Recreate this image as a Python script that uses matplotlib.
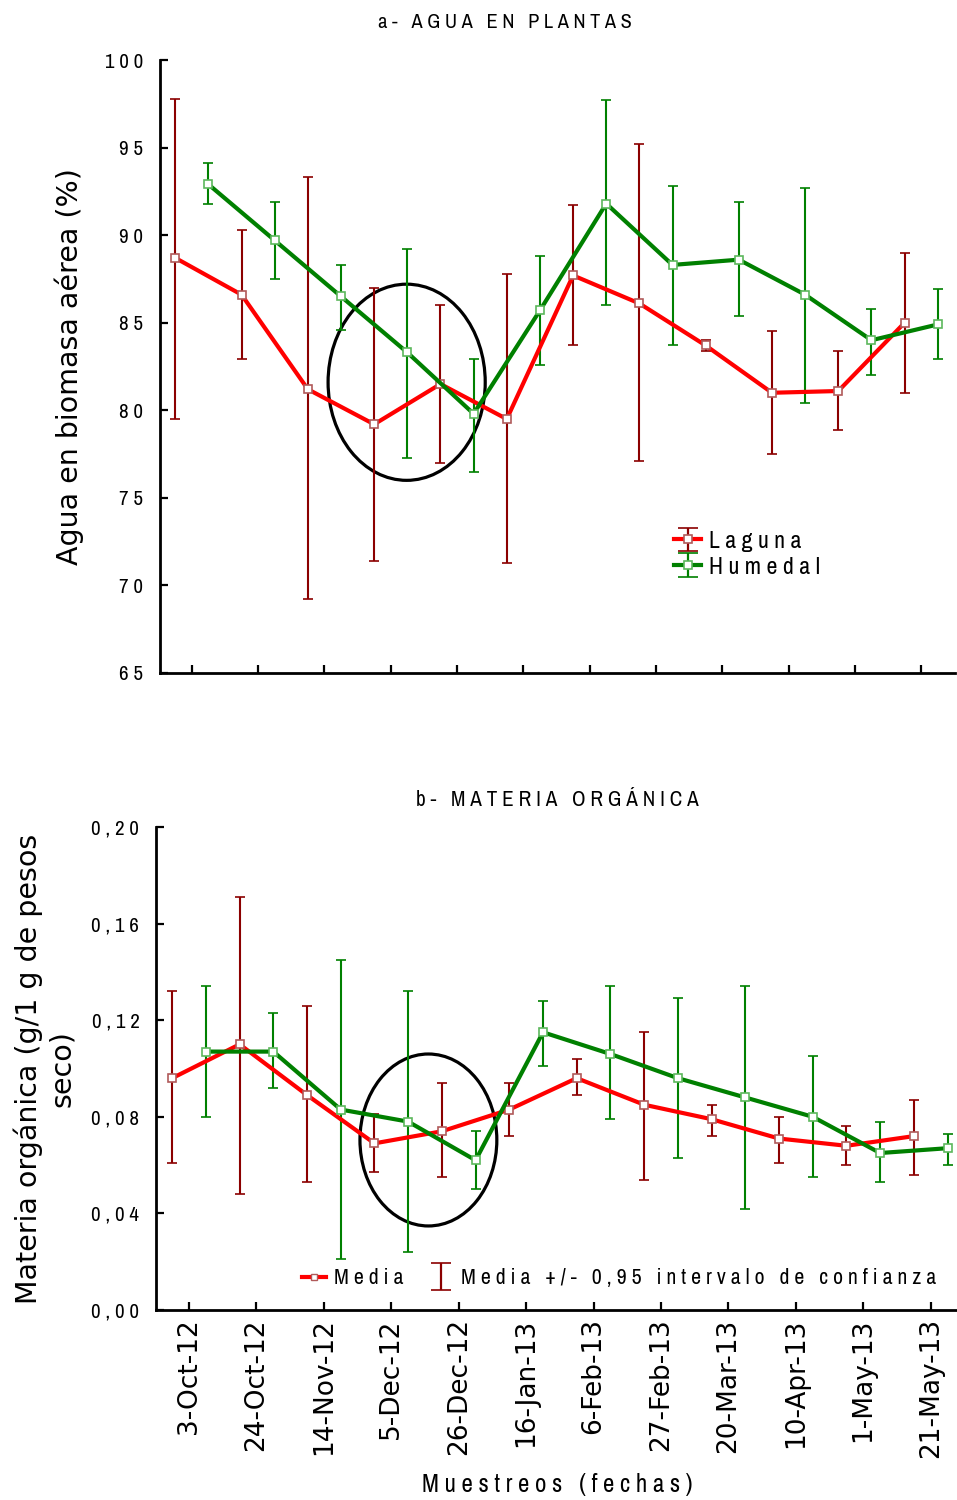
import numpy as np
import matplotlib
matplotlib.use("Agg")
import matplotlib.pyplot as plt
from matplotlib import font_manager
from matplotlib.font_manager import FontProperties
from matplotlib.patches import Ellipse
from matplotlib.lines import Line2D
from matplotlib.legend_handler import HandlerErrorbar

# ------------------------------------------------------------
# DATA
# ------------------------------------------------------------
fechas = ['3-Oct-12', '24-Oct-12', '14-Nov-12', '5-Dec-12', '26-Dec-12',
          '16-Jan-13', '6-Feb-13', '27-Feb-13', '20-Mar-13', '10-Apr-13',
          '1-May-13', '21-May-13']

# a- agua en plantas (%)
agua_laguna = [88.7, 86.6, 81.2, 79.2, 81.5, 79.5, 87.7, 86.1, 83.7, 81.0, 81.1, 85.0]
agua_laguna_lo = [79.5, 82.9, 69.2, 71.4, 77.0, 71.3, 83.7, 77.1, 83.4, 77.5, 78.9, 81.0]
agua_laguna_hi = [97.8, 90.3, 93.3, 87.0, 86.0, 87.8, 91.7, 95.2, 84.0, 84.5, 83.4, 89.0]

agua_humedal = [92.9, 89.7, 86.5, 83.3, 79.8, 85.7, 91.8, 88.3, 88.6, 86.6, 84.0, 84.9]
agua_humedal_lo = [91.8, 87.5, 84.6, 77.3, 76.5, 82.6, 86.0, 83.7, 85.4, 80.4, 82.0, 82.9]
agua_humedal_hi = [94.1, 91.9, 88.3, 89.2, 82.9, 88.8, 97.7, 92.8, 91.9, 92.7, 85.8, 86.9]

# b- materia organica (g/1 g de peso seco)
mo_laguna = [0.096, 0.110, 0.089, 0.069, 0.074, 0.083, 0.096, 0.085, 0.079, 0.071, 0.068, 0.072]
mo_laguna_lo = [0.061, 0.048, 0.053, 0.057, 0.055, 0.072, 0.089, 0.054, 0.072, 0.061, 0.060, 0.056]
mo_laguna_hi = [0.132, 0.171, 0.126, 0.081, 0.094, 0.094, 0.104, 0.115, 0.085, 0.080, 0.076, 0.087]

mo_humedal = [0.107, 0.107, 0.083, 0.078, 0.062, 0.115, 0.106, 0.096, 0.088, 0.080, 0.065, 0.067]
mo_humedal_lo = [0.080, 0.092, 0.021, 0.024, 0.050, 0.101, 0.079, 0.063, 0.042, 0.055, 0.053, 0.060]
mo_humedal_hi = [0.134, 0.123, 0.145, 0.132, 0.074, 0.128, 0.134, 0.129, 0.134, 0.105, 0.078, 0.073]

agua_ticks = [65, 70, 75, 80, 85, 90, 95, 100]
mo_ticks = [0.00, 0.04, 0.08, 0.12, 0.16, 0.20]

# ------------------------------------------------------------
# FONTS: a narrow / condensed face for the letter-spaced texts
# ------------------------------------------------------------
bad = ['bold', 'italic', 'oblique', 'thin', 'black', 'mono', 'serif']
cands = []
for f in font_manager.fontManager.ttflist:
    base = f.fname.lower().replace('-', '').replace('_', '').split('/')[-1]
    if ('condensed' in base or 'narrow' in base) and not any(b in base for b in bad):
        cands.append((base, f.fname))


def rank(c):
    name = c[0]
    light = any(w in name for w in ['light', 'semi', 'medium', 'extra'])
    if name.startswith('liberationsansnarrow'):
        return 0
    if 'dejavu' in name:
        return 4
    return 3 if light else 1


cands.sort(key=rank)
narrow_file = cands[0][1] if cands else None


def NF(size):
    if narrow_file:
        return FontProperties(fname=narrow_file, size=size)
    return FontProperties(family='DejaVu Sans', size=size)


plt.rcParams['font.family'] = ['DejaVu Sans']

RED = '#ff0000'
DARKRED = '#8b0000'
GREEN = '#008000'
RED_EDGE = '#b05a5a'
GREEN_EDGE = '#5cb85c'


def spaced(s):
    """Letter-spaced text like the original export."""
    return '   '.join(' '.join(w) for w in s.split(' '))


def draw_series(ax, x, mean, lo, hi, line_c, err_c, edge_c):
    mean = np.array(mean)
    yerr = [mean - np.array(lo), np.array(hi) - mean]
    return ax.errorbar(x, mean, yerr=yerr, color=line_c, ecolor=err_c, lw=3.0,
                       elinewidth=1.5, capsize=3.5, capthick=1.6,
                       marker='s', ms=6, mfc='white', mec=edge_c, mew=1.2)


def legend_key(ax, line_c, err_c, edge_c, show_line=True):
    # empty errorbar, only used as a legend key
    return ax.errorbar([np.nan], [np.nan], yerr=[[1.0], [1.0]],
                       fmt='-s' if show_line else 'none', color=line_c, ecolor=err_c,
                       lw=3.0, elinewidth=1.6, capsize=7, capthick=1.6,
                       ms=6, mfc='white', mec=edge_c, mew=1.2)


fig = plt.figure(figsize=(9.57, 15), dpi=100)
renderer = fig.canvas.get_renderer()


def fit_size(s, width_px, base=15.0):
    """Font size giving the spaced text the width it has in the reference."""
    t = fig.text(0, 0, spaced(s), fontproperties=NF(base))
    w = t.get_window_extent(renderer).width
    t.remove()
    return base * width_px / w


TITLE_A = fit_size('a- AGUA EN PLANTAS', 255)
TITLE_B = fit_size('b- MATERIA ORGÁNICA', 282)
XLAB = fit_size('Muestreos (fechas)', 271)
LEG1 = fit_size('Humedal', 111)
LEG2 = fit_size('Media +/- 0,95 intervalo de confianza', 475)
TICK = fit_size('0,20', 48)


def style_axis(ax, ticks, fmt):
    for side in ['top', 'right']:
        ax.spines[side].set_visible(False)
    for side in ['left', 'bottom']:
        ax.spines[side].set_linewidth(2)
    ax.tick_params(direction='in', width=1.6, length=6)
    ax.tick_params(axis='y', pad=12)
    ax.set_yticks(ticks)
    ax.set_yticklabels([spaced(fmt(t)) for t in ticks], fontproperties=NF(TICK))


x = np.arange(len(fechas))

# ------------------------------------------------------------
# a- AGUA EN PLANTAS
# ------------------------------------------------------------
ax1 = fig.add_axes([160 / 957, 1 - 673 / 1500, 795 / 957, 613 / 1500])
ax1.add_patch(Ellipse((3.24, 81.6), 2.37, 11.2, fill=False, ec='black', lw=2.3, zorder=1))
draw_series(ax1, x - 0.25, agua_laguna, agua_laguna_lo, agua_laguna_hi,
            RED, DARKRED, RED_EDGE)
draw_series(ax1, x + 0.25, agua_humedal, agua_humedal_lo, agua_humedal_hi,
            GREEN, GREEN, GREEN_EDGE)
ax1.set_xlim(-0.48, 11.51)
ax1.set_ylim(65, 100)
ax1.set_xticks(x)
ax1.set_xticklabels([])
style_axis(ax1, agua_ticks, lambda t: '%d' % t)
ax1.set_ylabel('Agua en biomasa aérea (%)', fontsize=20.5)
ax1.yaxis.set_label_coords(-0.095, 0.5)
k1 = legend_key(ax1, RED, DARKRED, RED_EDGE)
k2 = legend_key(ax1, GREEN, GREEN, GREEN_EDGE)
ax1.legend(handles=[k1, k2], labels=[spaced('Laguna'), spaced('Humedal')],
           loc='upper left', bbox_to_anchor=(0.62, 0.267),
           frameon=False, handlelength=1.1, handletextpad=0.35,
           labelspacing=0.2, numpoints=1,
           handler_map={type(k1): HandlerErrorbar(yerr_size=0.5)},
           prop=NF(LEG1))

fig.text(505 / 957, 1 - 22 / 1500, spaced('a- AGUA EN PLANTAS'),
         fontproperties=NF(TITLE_A), ha='center', va='center')

# ------------------------------------------------------------
# b- MATERIA ORGANICA
# ------------------------------------------------------------
ax2 = fig.add_axes([156 / 957, 1 - 1310 / 1500, 801 / 957, 483 / 1500])
ax2.add_patch(Ellipse((3.55, 0.0704), 2.03, 0.0712, fill=False, ec='black', lw=2.3, zorder=1))
draw_series(ax2, x - 0.25, mo_laguna, mo_laguna_lo, mo_laguna_hi,
            RED, DARKRED, RED_EDGE)
draw_series(ax2, x + 0.25, mo_humedal, mo_humedal_lo, mo_humedal_hi,
            GREEN, GREEN, GREEN_EDGE)
ax2.set_xlim(-0.49, 11.39)
ax2.set_ylim(0, 0.20)
ax2.set_xticks(x)
ax2.set_xticklabels(fechas, rotation=90, fontsize=19)
ax2.tick_params(axis='x', pad=6)
style_axis(ax2, mo_ticks, lambda t: ('%.2f' % t).replace('.', ','))
ax2.set_ylabel('Materia orgánica (g/1 g de pesos\nseco)', fontsize=20.5)
ax2.yaxis.set_label_coords(-0.1, 0.5)

media = Line2D([], [], color=RED, lw=3, marker='s', ms=5, mfc='white', mec=RED_EDGE)
ic = legend_key(ax2, RED, DARKRED, RED_EDGE, show_line=False)
ax2.legend(handles=[media, ic],
           labels=[spaced('Media'), spaced('Media +/- 0,95 intervalo de confianza')],
           loc='center', bbox_to_anchor=(0.578, 0.066), ncol=2, frameon=False,
           handlelength=1.1, handletextpad=0.35, columnspacing=1.2,
           handler_map={type(ic): HandlerErrorbar(yerr_size=0.6)},
           prop=NF(LEG2))

fig.text(557 / 957, 1 - 800 / 1500, spaced('b- MATERIA ORGÁNICA'),
         fontproperties=NF(TITLE_B), ha='center', va='center')
fig.text(557 / 957, 1 - 1485 / 1500, spaced('Muestreos (fechas)'),
         fontproperties=NF(XLAB), ha='center', va='center')

fig.savefig('out.png', dpi=100)
